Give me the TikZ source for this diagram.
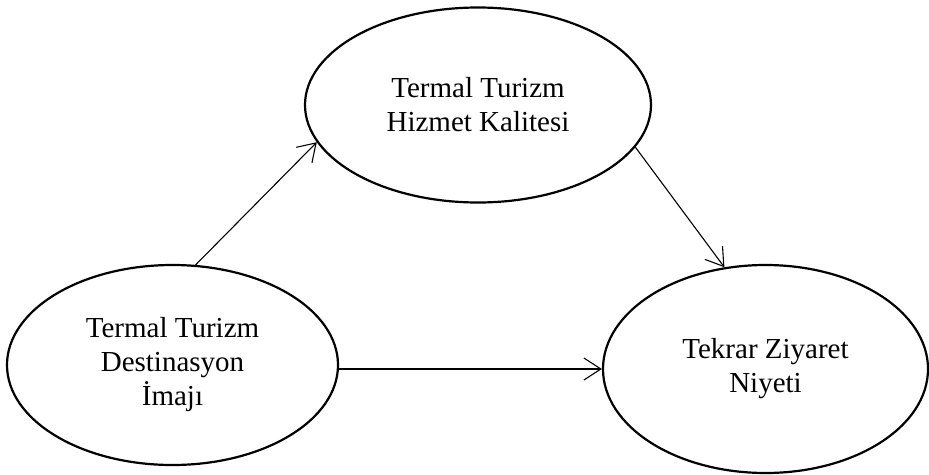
\documentclass[tikz,border=0pt]{standalone}
\usepackage{fontspec}
\setmainfont{Liberation Serif}
\usetikzlibrary{shapes.geometric,arrows.meta}
\begin{document}
\begin{tikzpicture}[x=1pt,y=-1pt,
  oval/.style={draw=black,line width=2.2pt,ellipse,inner sep=0pt,align=center,
    font=\fontsize{29}{34}\selectfont},
  link/.style={draw=black,line width=1.1pt,-{Straight Barb[length=17pt,width=22pt,line width=1.1pt]}}]
\useasboundingbox (0,0) rectangle (929,474);
\node[oval,minimum width=331pt,minimum height=200pt] (L) at (172.5,365) {Termal Turizm\\Destinasyon\\İmajı};
\node[oval,minimum width=346pt,minimum height=195pt] (T) at (478,105) {Termal Turizm\\Hizmet Kalitesi};
\node[oval,minimum width=325pt,minimum height=208pt] (R) at (765.5,369) {Tekrar Ziyaret\\Niyeti};
\draw[link] (L.77.9) -- (T.193.3);
\draw[link] (T.-15.3) -- (R.112.9);
\draw[link] (L.east |- R.west) -- (R.west);
\end{tikzpicture}
\end{document}
